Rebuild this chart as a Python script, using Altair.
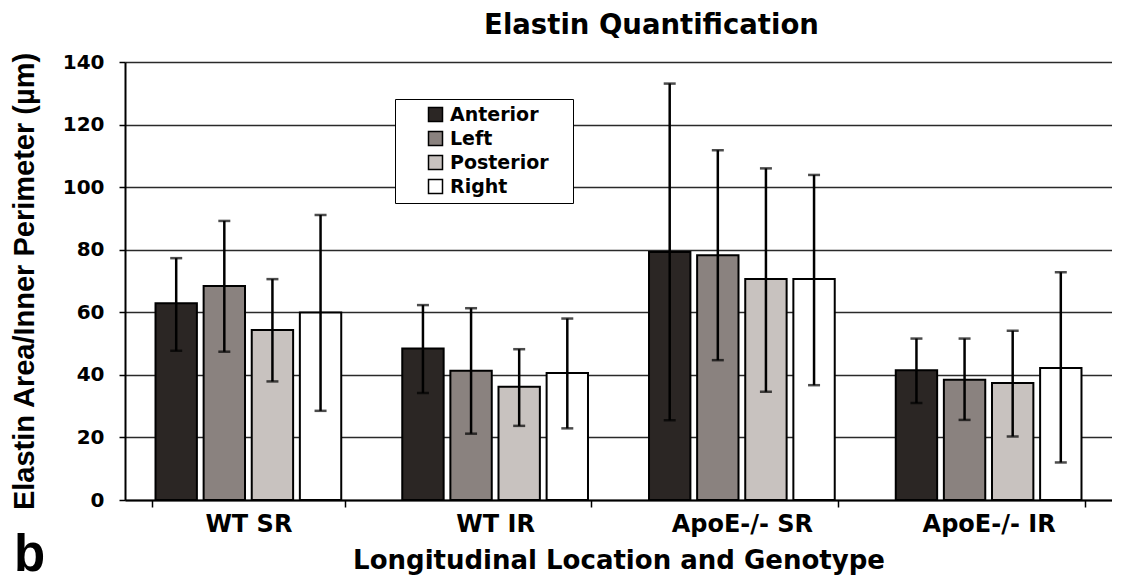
import altair as alt
import pandas as pd

groups = ["WT SR", "WT IR", "ApoE-/- SR", "ApoE-/- IR"]
locations = ["Anterior", "Left", "Posterior", "Right"]
colors = ["#2b2624", "#8a827f", "#c8c2bf", "#ffffff"]

# mean values per group (order = locations)
mean_wt_sr = [62.9, 68.4, 54.3, 59.9]
mean_wt_ir = [48.4, 41.3, 36.2, 40.6]
mean_apo_sr = [79.3, 78.2, 70.6, 70.6]
mean_apo_ir = [41.5, 38.4, 37.4, 42.2]

# error bar upper ends
hi_wt_sr = [77.3, 89.2, 70.6, 91.1]
hi_wt_ir = [62.3, 61.3, 48.2, 58.0]
hi_apo_sr = [133.1, 111.8, 106.0, 103.9]
hi_apo_ir = [51.6, 51.6, 54.1, 72.8]

# error bar lower ends
lo_wt_sr = [47.7, 47.4, 37.9, 28.5]
lo_wt_ir = [34.2, 21.2, 23.7, 22.9]
lo_apo_sr = [25.5, 44.7, 34.6, 36.7]
lo_apo_ir = [31.0, 25.6, 20.3, 12.0]

y_ticks = [0, 20, 40, 60, 80, 100, 120, 140]
panel_letter = ["b"]

means = [mean_wt_sr, mean_wt_ir, mean_apo_sr, mean_apo_ir]
his = [hi_wt_sr, hi_wt_ir, hi_apo_sr, hi_apo_ir]
los = [lo_wt_sr, lo_wt_ir, lo_apo_sr, lo_apo_ir]

rows = []
for gi, g in enumerate(groups):
    for li, loc in enumerate(locations):
        rows.append({"group": g, "location": loc, "mean": means[gi][li],
                     "hi": his[gi][li], "lo": los[gi][li]})
df = pd.DataFrame(rows)

SANS = "Liberation Sans"
WIDE = "DejaVu Sans"
W, H = 987, 438

x_enc = alt.X(
    "group:N", sort=groups,
    scale=alt.Scale(paddingInner=0.22, paddingOuter=0.11),
    axis=alt.Axis(
        title="Longitudinal Location and Genotype", labelAngle=0,
        labelFont=WIDE, labelFontSize=24, labelFontWeight="bold", labelColor="black",
        titleFont=WIDE, titleFontSize=26, titleFontWeight="bold", titleColor="black",
        titlePadding=11, labelPadding=5,
        domainColor="black", domainWidth=2, tickColor="black", tickWidth=1.5,
        tickSize=7, tickBand="extent",
    ),
)
xoff_enc = alt.XOffset("location:N", sort=locations,
                       scale=alt.Scale(paddingInner=0.14, paddingOuter=0.07))

y_enc = alt.Y(
    "mean:Q",
    scale=alt.Scale(domain=[0, 140], nice=False),
    axis=alt.Axis(
        title="Elastin Area/Inner Perimeter (µm)", values=y_ticks,
        labelFont=WIDE, labelFontSize=20, labelFontWeight="bold", labelColor="black",
        titleFont=SANS, titleFontSize=29, titleFontWeight="bold", titleColor="black",
        labelPadding=15, titlePadding=23,
        domainColor="black", domainWidth=2, tickColor="black", tickWidth=1.5, tickSize=6,
        grid=True, gridColor="#2a2a2a", gridWidth=1.6,
    ),
)

bars = alt.Chart(df).mark_bar(stroke="black", strokeWidth=2).encode(
    x=x_enc, xOffset=xoff_enc, y=y_enc,
    color=alt.Color(
        "location:N", sort=locations,
        scale=alt.Scale(domain=locations, range=colors),
        legend=alt.Legend(
            title=".", titleOrient="right", titleFontSize=40, titlePadding=6,
            titleOpacity=0,
            orient="none", legendX=270, legendY=37,
            fillColor="white", strokeColor="black", padding=6,
            symbolType="square", symbolSize=196, symbolStrokeColor="black",
            symbolStrokeWidth=1.5, symbolOffset=25,
            labelFont=WIDE, labelFontSize=19, labelFontWeight="bold", labelColor="black",
            labelOffset=5, rowPadding=3,
        ),
    ),
)

err_lines = alt.Chart(df).mark_rule(color="black", strokeWidth=2.5).encode(
    x=alt.X("group:N", sort=groups), xOffset=alt.XOffset("location:N", sort=locations),
    y="lo:Q", y2="hi:Q",
)
caps_hi = alt.Chart(df).mark_tick(color="black", size=12, thickness=2.5).encode(
    x=alt.X("group:N", sort=groups), xOffset=alt.XOffset("location:N", sort=locations),
    y="hi:Q",
)
caps_lo = alt.Chart(df).mark_tick(color="black", size=12, thickness=2.5).encode(
    x=alt.X("group:N", sort=groups), xOffset=alt.XOffset("location:N", sort=locations),
    y="lo:Q",
)

letter = alt.Chart(pd.DataFrame({"t": panel_letter})).mark_text(
    font=SANS, fontSize=51, fontWeight="bold", align="left", baseline="alphabetic",
    color="black"
).encode(text="t:N", x=alt.value(-111), y=alt.value(509))

chart = alt.layer(bars, err_lines, caps_hi, caps_lo, letter).properties(
    width=W, height=H,
    padding={"left": 2, "top": 4, "right": 0, "bottom": 0},
    title=alt.TitleParams("Elastin Quantification", font=WIDE, fontSize=27.5,
                          fontWeight="bold", color="black", dx=33, offset=12),
).configure_view(stroke="transparent").configure(background="white")

chart.save("out.html", embed_options={"renderer": "svg", "actions": False})
